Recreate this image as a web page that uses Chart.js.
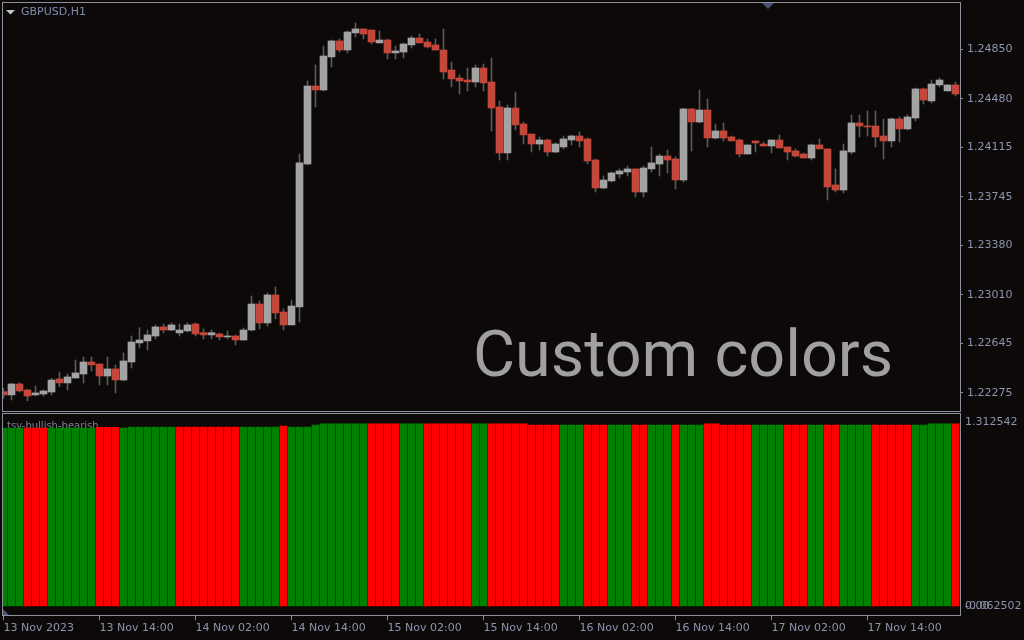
<!DOCTYPE html>
<html><head><meta charset="utf-8">
<script src="https://cdn.jsdelivr.net/npm/chart.js@4.4.1/dist/chart.umd.min.js"></script>
<style>
html,body{margin:0;padding:0;background:#0c0908;width:1024px;height:640px;overflow:hidden;}
#wrapA{position:absolute;left:0;top:0;width:1024px;height:413px;}
#wrapB{position:absolute;left:0;top:413px;width:1024px;height:227px;}
canvas{display:block;}
</style></head><body>
<div id="wrapA"><canvas id="main" width="1024" height="413"></canvas></div>
<div id="wrapB"><canvas id="ind" width="1024" height="227"></canvas></div>
<script>
// ---- DATA (GBPUSD H1, 120 bars) ----
const symbolTitle = "GBPUSD,H1";
const indicatorName = "tsv-bullish-bearish";
const watermark = "Custom colors";

const open = [
1.22283,1.22258,1.22340,1.22295,1.22258,1.22265,1.22280,1.22378,1.22348,1.22385,
1.22415,1.22505,1.22490,1.22400,1.22453,1.22370,1.22505,1.22648,1.22663,1.22700,
1.22768,1.22745,1.22723,1.22738,1.22790,1.22725,1.22708,1.22715,1.22693,1.22700,
1.22670,1.22745,1.22940,1.22798,1.23008,1.22880,1.22783,1.22918,1.23990,1.24575,
1.24545,1.24793,1.24913,1.24845,1.24973,1.25003,1.24995,1.24898,1.24920,1.24823,
1.24830,1.24883,1.24935,1.24905,1.24883,1.24845,1.24695,1.24635,1.24620,1.24605,
1.24710,1.24605,1.24418,1.24073,1.24410,1.24290,1.24215,1.24140,1.24170,1.24080,
1.24118,1.24170,1.24200,1.24178,1.24020,1.23810,1.23863,1.23915,1.23930,1.23953,
1.23780,1.23953,1.23990,1.24050,1.24028,1.23870,1.24403,1.24305,1.24395,1.24185,
1.24238,1.24193,1.24170,1.24065,1.24163,1.24140,1.24125,1.24170,1.24118,1.24088,
1.24065,1.24035,1.24133,1.24103,1.23833,1.23795,1.24080,1.24298,1.24275,1.24275,
1.24200,1.24163,1.24328,1.24253,1.24335,1.24553,1.24463,1.24583,1.24538,1.24583];

const high = [
1.22308,1.22345,1.22350,1.22300,1.22325,1.22295,1.22383,1.22430,1.22415,1.22520,
1.22543,1.22543,1.22490,1.22543,1.22483,1.22573,1.22700,1.22763,1.22745,1.22783,
1.22790,1.22798,1.22790,1.22798,1.22798,1.22753,1.22745,1.22723,1.22738,1.22708,
1.22760,1.23000,1.22963,1.23023,1.23068,1.22903,1.22970,1.24065,1.24613,1.24733,
1.24875,1.24920,1.24928,1.24988,1.25048,1.25003,1.24995,1.24988,1.24928,1.24875,
1.24898,1.24950,1.24965,1.24928,1.24928,1.25003,1.24755,1.24658,1.24710,1.24733,
1.24740,1.24785,1.24463,1.24433,1.24530,1.24305,1.24215,1.24193,1.24178,1.24148,
1.24200,1.24208,1.24230,1.24185,1.24028,1.23900,1.23930,1.23953,1.23975,1.23953,
1.23975,1.24118,1.24065,1.24095,1.24043,1.24408,1.24408,1.24545,1.24478,1.24290,
1.24298,1.24200,1.24178,1.24133,1.24163,1.24155,1.24170,1.24208,1.24118,1.24103,
1.24073,1.24140,1.24178,1.24103,1.23953,1.24140,1.24358,1.24358,1.24388,1.24388,
1.24328,1.24335,1.24343,1.24358,1.24560,1.24560,1.24620,1.24635,1.24583,1.24605];

const low = [
1.22233,1.22220,1.22280,1.22215,1.22250,1.22250,1.22258,1.22320,1.22295,1.22385,
1.22348,1.22438,1.22333,1.22333,1.22273,1.22363,1.22460,1.22610,1.22595,1.22678,
1.22723,1.22738,1.22700,1.22730,1.22700,1.22678,1.22678,1.22670,1.22678,1.22633,
1.22670,1.22738,1.22753,1.22775,1.22828,1.22745,1.22783,1.22805,1.23983,1.24418,
1.24538,1.24718,1.24830,1.24823,1.24943,1.24928,1.24890,1.24898,1.24778,1.24778,
1.24785,1.24860,1.24898,1.24860,1.24845,1.24628,1.24568,1.24515,1.24538,1.24568,
1.24538,1.24238,1.24020,1.24020,1.24245,1.24140,1.24080,1.24095,1.24050,1.24073,
1.24103,1.24133,1.24118,1.23990,1.23780,1.23803,1.23855,1.23885,1.23900,1.23743,
1.23743,1.23930,1.23900,1.23923,1.23803,1.23855,1.24088,1.24298,1.24118,1.24178,
1.24163,1.24163,1.24043,1.24065,1.24080,1.24125,1.24073,1.24110,1.24020,1.24043,
1.24035,1.24020,1.24103,1.23720,1.23780,1.23773,1.24065,1.24193,1.24200,1.24118,
1.24028,1.24118,1.24155,1.24245,1.24313,1.24440,1.24448,1.24568,1.24538,1.24500];

const close = [
1.22258,1.22340,1.22288,1.22250,1.22273,1.22288,1.22370,1.22348,1.22393,1.22423,
1.22505,1.22483,1.22400,1.22453,1.22370,1.22513,1.22655,1.22670,1.22708,1.22768,
1.22745,1.22783,1.22745,1.22783,1.22715,1.22708,1.22725,1.22693,1.22700,1.22670,
1.22745,1.22940,1.22798,1.23008,1.22873,1.22783,1.22925,1.23998,1.24575,1.24545,
1.24800,1.24913,1.24845,1.24980,1.25003,1.24965,1.24905,1.24920,1.24823,1.24838,
1.24890,1.24935,1.24898,1.24868,1.24845,1.24680,1.24628,1.24613,1.24605,1.24710,
1.24598,1.24410,1.24073,1.24410,1.24283,1.24208,1.24140,1.24170,1.24080,1.24140,
1.24178,1.24200,1.24163,1.24013,1.23810,1.23870,1.23923,1.23938,1.23953,1.23780,
1.23960,1.23998,1.24050,1.24020,1.23870,1.24403,1.24305,1.24395,1.24185,1.24238,
1.24185,1.24163,1.24065,1.24133,1.24148,1.24125,1.24170,1.24110,1.24080,1.24050,
1.24035,1.24133,1.24103,1.23818,1.23795,1.24088,1.24298,1.24275,1.24268,1.24193,
1.24163,1.24328,1.24253,1.24343,1.24553,1.24470,1.24590,1.24620,1.24583,1.24515];

// tsv-bullish-bearish histogram (value, direction: 1 bullish, -1 bearish)
const tsvValues = [
1.210,1.210,1.210,1.210,1.210,1.210,1.210,1.210,1.210,1.210,
1.210,1.210,1.215,1.215,1.215,1.210,1.217,1.217,1.217,1.217,
1.217,1.217,1.217,1.217,1.217,1.217,1.217,1.217,1.217,1.217,
1.217,1.217,1.217,1.217,1.217,1.224,1.217,1.217,1.217,1.231,
1.238,1.238,1.238,1.238,1.238,1.238,1.238,1.238,1.238,1.238,
1.238,1.238,1.238,1.238,1.238,1.238,1.238,1.238,1.238,1.238,
1.238,1.238,1.238,1.238,1.238,1.238,1.231,1.231,1.231,1.231,
1.231,1.231,1.231,1.231,1.231,1.231,1.231,1.231,1.231,1.231,
1.231,1.231,1.231,1.231,1.231,1.231,1.231,1.231,1.238,1.238,
1.231,1.231,1.231,1.231,1.231,1.231,1.231,1.231,1.231,1.231,
1.231,1.231,1.231,1.231,1.231,1.231,1.231,1.231,1.231,1.231,
1.231,1.231,1.231,1.231,1.231,1.231,1.238,1.238,1.238,1.238];

const tsvDir = [
1,1,1,-1,-1,-1,1,1,1,1,
1,1,-1,-1,-1,1,1,1,1,1,
1,1,-1,-1,-1,-1,-1,-1,-1,-1,
1,1,1,1,1,-1,1,1,1,1,
1,1,1,1,1,1,-1,-1,-1,-1,
1,1,1,-1,-1,-1,-1,-1,-1,1,
1,-1,-1,-1,-1,-1,-1,-1,-1,-1,
1,1,1,-1,-1,-1,1,1,1,-1,
-1,1,1,1,-1,1,1,1,-1,-1,
-1,-1,-1,-1,1,1,1,1,-1,-1,
-1,1,1,-1,-1,1,1,1,1,-1,
-1,-1,-1,-1,1,1,1,1,1,-1];

const timeTickIdx = [0,12,24,36,48,60,72,84,96,108];
const timeTickLabels = ["13 Nov 2023","13 Nov 14:00","14 Nov 02:00","14 Nov 14:00","15 Nov 02:00",
  "15 Nov 14:00","16 Nov 02:00","16 Nov 14:00","17 Nov 02:00","17 Nov 14:00"];
const priceTicks = [1.22275,1.22645,1.23010,1.23380,1.23745,1.24115,1.24480,1.24850];
const indMax = 1.312542, indMin = -0.062502;
const indLabels = ["1.312542","-0.062502","0.00"];

// ---- STYLE ----
const FRAME = '#8c909c';
const AXIS_TXT = '#8c94ae';
const BULL = '#a3a3a3', BEAR = '#c3473a', WICK = '#5a5a5a';
const HIST_UP = '#008000', HIST_DN = '#ff0000';
const FONT = 'DejaVu Sans';
const xMin = -0.1875, xMax = 119.5625;

const idx = open.map((_, i) => i);
const bodyData = idx.map(i => ({x: i, y: [open[i], close[i]]}));
const wickData = idx.map(i => ({x: i, y: [low[i], high[i]]}));
const bodyColors = idx.map(i => close[i] >= open[i] ? BULL : BEAR);

const framePlugin = {
  id: 'frame',
  afterDraw(chart) {
    const {ctx, chartArea: a} = chart;
    ctx.save();
    ctx.strokeStyle = FRAME; ctx.lineWidth = 1;
    ctx.strokeRect(a.left + 0.5, a.top + 0.5, a.right - a.left, a.bottom - a.top);
    ctx.restore();
  }
};

const mainDeco = {
  id: 'mainDeco',
  beforeDatasetsDraw(chart) {
    const ctx = chart.ctx;
    ctx.save();
    ctx.fillStyle = '#a0a0a0';
    ctx.font = '100px Roboto';
    let m = ctx.measureText(watermark);
    const size = 100 * 414 / (m.actualBoundingBoxLeft + m.actualBoundingBoxRight);
    ctx.font = size + 'px Roboto';
    m = ctx.measureText(watermark);
    ctx.textBaseline = 'alphabetic';
    ctx.fillText(watermark, 476 + m.actualBoundingBoxLeft, 376);
    ctx.restore();
  },
  afterDraw(chart) {
    const ctx = chart.ctx;
    ctx.save();
    ctx.fillStyle = '#c8c8c8';
    ctx.beginPath(); ctx.moveTo(6, 10); ctx.lineTo(15, 10); ctx.lineTo(10.5, 14.5); ctx.closePath(); ctx.fill();
    ctx.fillStyle = '#7f8db0';
    ctx.font = '11px "' + FONT + '"';
    ctx.textBaseline = 'middle'; ctx.textAlign = 'left';
    ctx.fillText(symbolTitle, 21, 12.5);
    ctx.fillStyle = '#4b5275';
    ctx.beginPath(); ctx.moveTo(762, 3); ctx.lineTo(774, 3); ctx.lineTo(768, 9); ctx.closePath(); ctx.fill();
    ctx.restore();
  }
};

new Chart(document.getElementById('main'), {
  type: 'bar',
  data: { datasets: [
    { data: bodyData, backgroundColor: bodyColors, barThickness: 7, maxBarThickness: 7, grouped: false, order: 1, borderWidth: 0, minBarLength: 1 },
    { data: wickData, backgroundColor: WICK, barThickness: 1, maxBarThickness: 1, grouped: false, order: 2, borderWidth: 0 }
  ]},
  options: {
    responsive: false, animation: false, events: [],
    layout: { padding: { left: 2, top: 2, right: 0, bottom: 2 } },
    plugins: { legend: { display: false }, tooltip: { enabled: false } },
    scales: {
      x: { type: 'linear', min: xMin, max: xMax, display: false, offset: false, grid: { offset: false } },
      y: {
        type: 'linear', position: 'right', min: 1.221375, max: 1.25205,
        afterFit(s) { s.width = 64; s.paddingTop = 0; s.paddingBottom = 0; },
        afterBuildTicks(s) { s.ticks = priceTicks.map(v => ({ value: v })); },
        ticks: { autoSkip: false, padding: 4, color: AXIS_TXT, font: { family: FONT, size: 11 },
                 callback: (v) => Number(v).toFixed(5) },
        grid: { display: true, drawOnChartArea: false, drawTicks: true, tickLength: 3, tickColor: FRAME, color: FRAME },
        border: { display: false }
      }
    }
  },
  plugins: [mainDeco, framePlugin]
});

const indDeco = {
  id: 'indDeco',
  beforeDatasetsDraw(chart) {
    const ctx = chart.ctx;
    ctx.save();
    ctx.fillStyle = '#7a8092';
    ctx.font = '10px "' + FONT + '"';
    ctx.textBaseline = 'alphabetic'; ctx.textAlign = 'left';
    ctx.fillText(indicatorName, 7, 15.5);
    ctx.restore();
  },
  afterDraw(chart) {
    const ctx = chart.ctx;
    const a = chart.chartArea;
    ctx.save();
    ctx.fillStyle = AXIS_TXT;
    ctx.font = '11px "' + FONT + '"';
    ctx.textBaseline = 'middle'; ctx.textAlign = 'left';
    ctx.fillText(indLabels[0], 965, a.top + 9.5);
    ctx.fillText(indLabels[1], 965, a.bottom - 8.5);
    ctx.fillText(indLabels[2], 965, a.bottom - 8.5);
    ctx.fillStyle = '#4b5275';
    ctx.beginPath(); ctx.moveTo(3, a.bottom - 6); ctx.lineTo(3, a.bottom); ctx.lineTo(9, a.bottom); ctx.closePath(); ctx.fill();
    ctx.restore();
  }
};

new Chart(document.getElementById('ind'), {
  type: 'bar',
  data: { datasets: [{
    data: idx.map(i => ({ x: i, y: tsvValues[i] })),
    backgroundColor: idx.map(i => tsvDir[i] > 0 ? HIST_UP : HIST_DN),
    barThickness: 7, maxBarThickness: 7, borderWidth: 0
  }]},
  options: {
    responsive: false, animation: false, events: [],
    layout: { padding: { left: 2, top: 0, right: 64, bottom: 0 } },
    plugins: { legend: { display: false }, tooltip: { enabled: false } },
    scales: {
      x: {
        type: 'linear', min: xMin, max: xMax, position: 'bottom', offset: false,
        afterFit(s) { s.height = 25; s.paddingLeft = 0; s.paddingRight = 0; },
        afterBuildTicks(s) { s.ticks = timeTickIdx.map(v => ({ value: v })); },
        ticks: { autoSkip: false, maxRotation: 0, minRotation: 0, align: 'start', padding: 2,
                 color: AXIS_TXT, font: { family: FONT, size: 11 },
                 callback: (v, i) => timeTickLabels[i] },
        grid: { display: true, offset: false, drawOnChartArea: false, drawTicks: true, tickLength: 5, tickColor: FRAME, color: FRAME },
        border: { display: false }
      },
      y: { type: 'linear', min: indMin, max: indMax, display: false }
    }
  },
  plugins: [indDeco, framePlugin]
});
</script>
</body></html>
